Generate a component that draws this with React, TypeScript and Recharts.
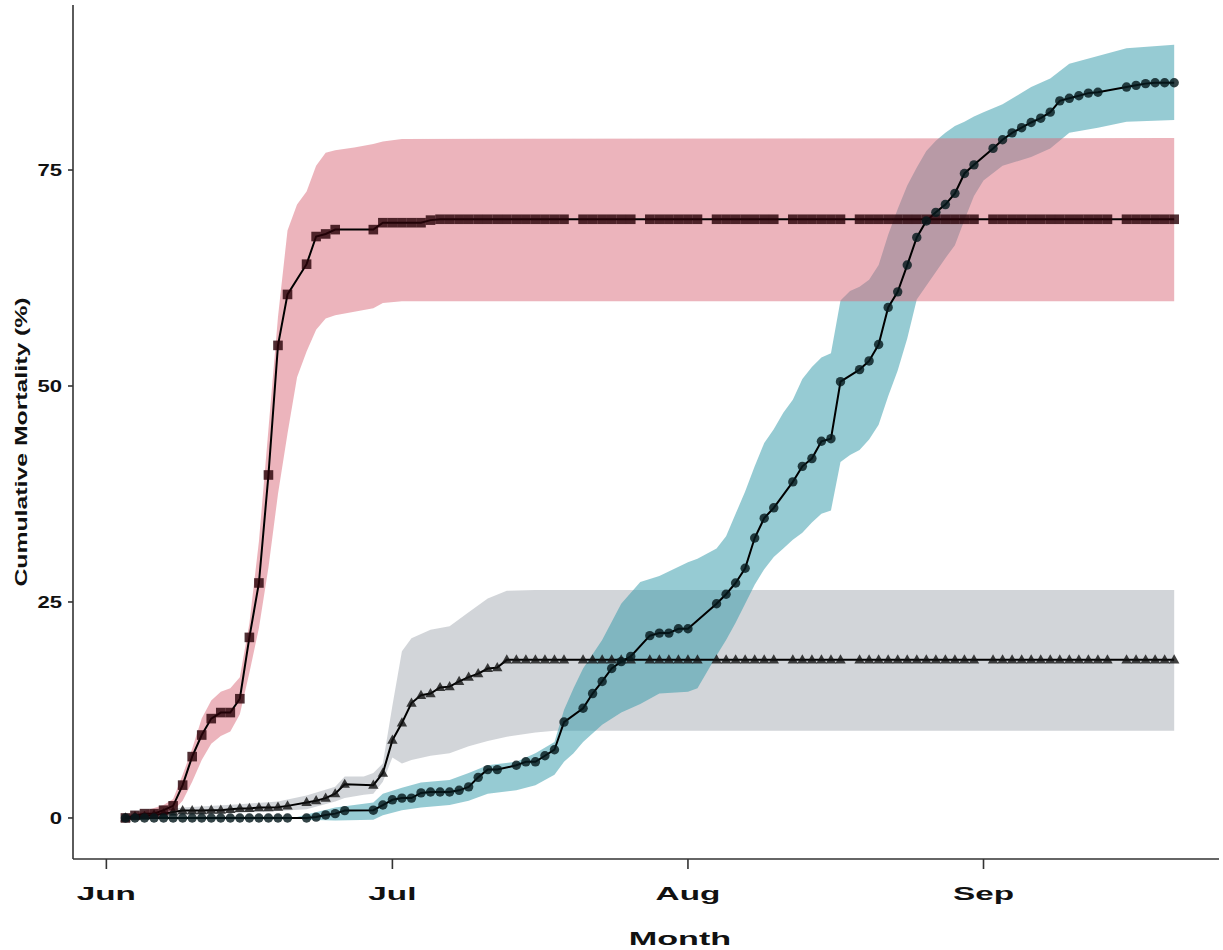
import React from 'react';
import { Area, ComposedChart, Line, XAxis, YAxis } from 'recharts';

// day = days since 1 June
const monthTicks = [0, 30, 61, 92];
const monthLabels = ['Jun', 'Jul', 'Aug', 'Sep'];
const mortalityTicks = [0, 25, 50, 75];

// [day, cumulative mortality %]
const redSeries: [number, number][] = [
  [2, 0], [3, 0.3], [4, 0.5], [5, 0.5], [6, 0.9], [7, 1.4], [8, 3.8], [9, 7.1], [10, 9.6],
  [11, 11.5], [12, 12.2], [13, 12.2], [14, 13.8], [15, 20.9], [16, 27.2], [17, 39.7], [18, 54.7],
  [19, 60.6], [21, 64.1], [22, 67.3], [23, 67.6], [24, 68.1], [28, 68.1], [29, 68.9], [30, 68.9],
  [31, 68.9], [32, 68.9], [33, 68.9], [34, 69.2],
  [35, 69.3], [36, 69.3], [37, 69.3], [38, 69.3], [39, 69.3], [40, 69.3], [41, 69.3], [42, 69.3],
  [43, 69.3], [44, 69.3], [45, 69.3], [46, 69.3], [47, 69.3], [48, 69.3],
  [50, 69.3], [51, 69.3], [52, 69.3], [53, 69.3], [54, 69.3], [55, 69.3],
  [57, 69.3], [58, 69.3], [59, 69.3], [60, 69.3], [61, 69.3], [62, 69.3],
  [64, 69.3], [65, 69.3], [66, 69.3], [67, 69.3], [68, 69.3], [69, 69.3], [70, 69.3],
  [72, 69.3], [73, 69.3], [74, 69.3], [75, 69.3], [76, 69.3], [77, 69.3],
  [79, 69.3], [80, 69.3], [81, 69.3], [82, 69.3], [83, 69.3], [84, 69.3], [85, 69.3], [86, 69.3],
  [87, 69.3], [88, 69.3], [89, 69.3], [90, 69.3], [91, 69.3],
  [93, 69.3], [94, 69.3], [95, 69.3], [96, 69.3], [97, 69.3], [98, 69.3], [99, 69.3], [100, 69.3],
  [101, 69.3], [102, 69.3], [103, 69.3], [104, 69.3], [105, 69.3],
  [107, 69.3], [108, 69.3], [109, 69.3], [110, 69.3], [111, 69.3], [112, 69.3],
];

const greySeries: [number, number][] = [
  [2, 0], [3, 0.2], [4, 0.2], [5, 0.35], [6, 0.5], [7, 0.7], [8, 0.85], [9, 0.85], [10, 0.85],
  [11, 0.9], [12, 0.9], [13, 1.0], [14, 1.1], [15, 1.1], [16, 1.2], [17, 1.2], [18, 1.25], [19, 1.4],
  [21, 1.8], [22, 2.0], [23, 2.3], [24, 2.8], [25, 3.9], [28, 3.8], [29, 5.2], [30, 9.0],
  [31, 11.0], [32, 13.3], [33, 14.2], [34, 14.4], [35, 15.1], [36, 15.2], [37, 15.8], [38, 16.3],
  [39, 16.7], [40, 17.3], [41, 17.4],
  [42, 18.3], [43, 18.3], [44, 18.3], [45, 18.3], [46, 18.3], [47, 18.3], [48, 18.3],
  [50, 18.3], [51, 18.3], [52, 18.3], [53, 18.3], [54, 18.3], [55, 18.3],
  [57, 18.3], [58, 18.3], [59, 18.3], [60, 18.3], [61, 18.3], [62, 18.3],
  [64, 18.3], [65, 18.3], [66, 18.3], [67, 18.3], [68, 18.3], [69, 18.3], [70, 18.3],
  [72, 18.3], [73, 18.3], [74, 18.3], [75, 18.3], [76, 18.3], [77, 18.3],
  [79, 18.3], [80, 18.3], [81, 18.3], [82, 18.3], [83, 18.3], [84, 18.3], [85, 18.3], [86, 18.3],
  [87, 18.3], [88, 18.3], [89, 18.3], [90, 18.3], [91, 18.3],
  [93, 18.3], [94, 18.3], [95, 18.3], [96, 18.3], [97, 18.3], [98, 18.3], [99, 18.3], [100, 18.3],
  [101, 18.3], [102, 18.3], [103, 18.3], [104, 18.3], [105, 18.3],
  [107, 18.3], [108, 18.3], [109, 18.3], [110, 18.3], [111, 18.3], [112, 18.3],
];

const tealSeries: [number, number][] = [
  [2, 0], [3, 0], [4, 0], [5, 0], [6, 0], [7, 0], [8, 0], [9, 0], [10, 0], [11, 0], [12, 0],
  [13, 0], [14, 0], [15, 0], [16, 0], [17, 0], [18, 0], [19, 0],
  [21, 0], [22, 0.1], [23, 0.35], [24, 0.5], [25, 0.85], [28, 0.9], [29, 1.5], [30, 2.1],
  [31, 2.3], [32, 2.3], [33, 2.9], [34, 3.0], [35, 3.0], [36, 3.0], [37, 3.2], [38, 3.6],
  [39, 4.7], [40, 5.6], [41, 5.6], [43, 6.1], [44, 6.5], [45, 6.5], [46, 7.2], [47, 7.9],
  [48, 11.1], [50, 12.7], [51, 14.4], [52, 15.8], [53, 17.3], [54, 18.1], [55, 18.7],
  [57, 21.1], [58, 21.4], [59, 21.4], [60, 21.9], [61, 21.9],
  [64, 24.8], [65, 25.9], [66, 27.2], [67, 28.9], [68, 32.4], [69, 34.7], [70, 35.9],
  [72, 38.9], [73, 40.7], [74, 41.6], [75, 43.6], [76, 43.9], [77, 50.5],
  [79, 51.9], [80, 52.9], [81, 54.8], [82, 59.1], [83, 60.9], [84, 64.0], [85, 67.2], [86, 69.1],
  [87, 70.1], [88, 71.0], [89, 72.3], [90, 74.6], [91, 75.6],
  [93, 77.5], [94, 78.5], [95, 79.3], [96, 79.9], [97, 80.5], [98, 81.0], [99, 81.7], [100, 83.0],
  [101, 83.3], [102, 83.6], [103, 83.9], [104, 84.0],
  [107, 84.6], [108, 84.8], [109, 85.0], [110, 85.1], [111, 85.1], [112, 85.1],
];

// [day, lower, upper] of the shaded bands
const redBand: [number, number, number][] = [
  [2, 0, 0.3], [4, 0, 0.8], [6, 0.3, 1.5], [7, 0.8, 2.2], [8, 2.0, 5.0], [9, 4.2, 8.0],
  [10, 6.7, 11.5], [11, 8.6, 13.6], [12, 9.5, 14.6], [13, 10.0, 15.0], [14, 12.0, 16.3],
  [15, 16.8, 22.5], [16, 22.0, 32.0], [17, 29.0, 45.0], [18, 37.5, 58.0], [19, 44.5, 68.0],
  [20, 51.0, 71.0], [21, 54.0, 72.5], [22, 56.5, 75.5], [23, 57.8, 77.0], [24, 58.2, 77.3],
  [26, 58.6, 77.6], [28, 59.0, 78.0], [29, 59.6, 78.3], [31, 59.8, 78.6], [112, 59.8, 78.7],
];

const greyBand: [number, number, number][] = [
  [2, 0, 0.3], [8, 0.3, 1.2], [14, 0.6, 1.6], [18, 0.8, 1.9], [21, 1.0, 2.6], [24, 1.9, 3.6],
  [25, 2.3, 4.8], [27, 2.7, 4.8], [28, 2.8, 5.2], [29, 4.2, 6.3], [30, 7.0, 13.0],
  [31, 6.3, 19.3], [32, 6.7, 20.8], [34, 7.2, 21.8], [36, 7.5, 22.2], [38, 8.3, 23.8],
  [40, 8.9, 25.4], [42, 9.4, 26.3], [45, 9.9, 26.4], [47, 10.1, 26.4], [112, 10.1, 26.4],
];

const tealBand: [number, number, number][] = [
  [20, 0, 0.1], [21, -0.2, 0.4], [24, -0.3, 1.2], [28, -0.2, 1.8], [29, 0.3, 2.8], [31, 0.9, 3.5],
  [33, 1.2, 4.1], [36, 1.5, 4.4], [38, 2.0, 5.2], [40, 2.8, 6.1], [43, 3.2, 6.5], [45, 3.8, 7.5],
  [47, 5.0, 8.8], [48, 6.5, 12.5], [49, 7.5, 15.0], [50, 8.8, 17.3], [52, 10.8, 20.6],
  [54, 12.2, 24.8], [56, 13.2, 27.3], [58, 14.4, 28.0], [61, 14.6, 29.6], [62, 15.0, 30.0],
  [64, 18.8, 31.2], [65, 20.6, 32.6], [66, 22.6, 35.2], [67, 24.8, 37.8], [68, 27.0, 40.7],
  [69, 28.8, 43.4], [70, 30.2, 45.0], [71, 31.2, 46.9], [72, 32.2, 48.4], [73, 33.0, 50.8],
  [74, 34.2, 52.2], [75, 35.2, 53.3], [76, 35.6, 53.8], [77, 41.2, 59.9], [78, 42.0, 61.0],
  [79, 42.6, 61.5], [80, 43.8, 62.3], [81, 45.5, 64.0], [82, 48.8, 67.5], [83, 51.8, 70.5],
  [84, 55.5, 73.2], [85, 60.0, 75.3], [86, 61.6, 77.2], [87, 63.2, 78.4], [88, 64.8, 79.3],
  [89, 66.3, 80.1], [90, 69.2, 80.6], [91, 72.0, 81.2], [92, 73.8, 81.7], [94, 75.5, 82.6],
  [97, 76.5, 84.6], [99, 77.5, 85.6], [101, 79.3, 87.3], [104, 79.9, 88.2], [107, 80.6, 89.1],
  [112, 80.8, 89.5],
];

const toPoints = (rows: [number, number][]) => rows.map(([day, value]) => ({ day, value }));
const toBand = (rows: [number, number, number][]) =>
  rows.map(([day, lo, hi]) => ({ day, range: [lo, hi] }));

const FONT = "'Liberation Sans', Arial, Helvetica, sans-serif";
const AXIS = '#333';

const squareDot = (props: any) => {
  const { cx, cy, index } = props;
  if (cx == null || cy == null) return <g key={`sq-${index}`} />;
  return (
    <rect key={`sq-${index}`} x={cx - 4.8} y={cy - 4.8} width={9.6} height={9.6}
      fill="#2a0208" fillOpacity={0.82} />
  );
};

const triangleDot = (props: any) => {
  const { cx, cy, index } = props;
  if (cx == null || cy == null) return <g key={`tr-${index}`} />;
  return (
    <path key={`tr-${index}`} d={`M${cx},${cy - 5.6}L${cx + 5.2},${cy + 3.6}L${cx - 5.2},${cy + 3.6}Z`}
      fill="#111" fillOpacity={0.8} />
  );
};

const circleDot = (props: any) => {
  const { cx, cy, index } = props;
  if (cx == null || cy == null) return <g key={`ci-${index}`} />;
  return <circle key={`ci-${index}`} cx={cx} cy={cy} r={4.7} fill="#061a1d" fillOpacity={0.82} />;
};

const MonthTick = ({ x, y, payload }: any) => {
  const i = monthTicks.indexOf(payload.value);
  return (
    <text transform={`translate(${x},${y + 29}) scale(1.85,1)`} textAnchor="middle"
      fontFamily={FONT} fontWeight={700} fontSize={18} fill="#111">
      {monthLabels[i]}
    </text>
  );
};

const MortalityTick = ({ x, y, payload }: any) => (
  <text transform={`translate(${x - 4},${y}) scale(1.3,1)`} textAnchor="end" dy="0.36em"
    fontFamily={FONT} fontWeight={700} fontSize={17} fill="#111">
    {payload.value}
  </text>
);

export default function App() {
  return (
    <div style={{ position: 'absolute', left: 0, top: 0, width: 1223, height: 950, background: '#fff' }}>
      <ComposedChart width={1223} height={950} margin={{ top: 5, right: 4, left: 0, bottom: 0 }}>
        <XAxis
          type="number"
          dataKey="day"
          domain={[-3.5, 116.7]}
          ticks={monthTicks}
          interval={0}
          allowDataOverflow
          height={91}
          tickSize={10}
          axisLine={{ stroke: AXIS, strokeWidth: 1.6 }}
          tickLine={{ stroke: AXIS, strokeWidth: 1.6 }}
          tick={<MonthTick />}
        />
        <YAxis
          type="number"
          domain={[-4.75, 94.1]}
          ticks={mortalityTicks}
          interval={0}
          allowDataOverflow
          width={73}
          tickSize={5}
          axisLine={{ stroke: AXIS, strokeWidth: 1.6 }}
          tickLine={{ stroke: AXIS, strokeWidth: 1.6 }}
          tick={<MortalityTick />}
        />
        <Area data={toBand(greyBand)} dataKey="range" type="linear" stroke="none"
          fill="#a5abb3" fillOpacity={0.5} isAnimationActive={false} activeDot={false} />
        <Area data={toBand(tealBand)} dataKey="range" type="linear" stroke="none"
          fill="#2d97a7" fillOpacity={0.5} isAnimationActive={false} activeDot={false} />
        <Area data={toBand(redBand)} dataKey="range" type="linear" stroke="none"
          fill="#d9697a" fillOpacity={0.5} isAnimationActive={false} activeDot={false} />
        <Line data={toPoints(greySeries)} dataKey="value" type="linear" stroke="#000" strokeWidth={2}
          dot={triangleDot} activeDot={false} isAnimationActive={false} />
        <Line data={toPoints(redSeries)} dataKey="value" type="linear" stroke="#000" strokeWidth={2}
          dot={squareDot} activeDot={false} isAnimationActive={false} />
        <Line data={toPoints(tealSeries)} dataKey="value" type="linear" stroke="#000" strokeWidth={2}
          dot={circleDot} activeDot={false} isAnimationActive={false} />
      </ComposedChart>
      <svg width={1223} height={950} style={{ position: 'absolute', left: 0, top: 0, pointerEvents: 'none' }}>
        <text transform="translate(680,945) scale(1.9,1)" textAnchor="middle"
          fontFamily={FONT} fontWeight={700} fontSize={18} fill="#111">
          Month
        </text>
        <text transform="translate(27,442) rotate(-90) scale(1.55,1)" textAnchor="middle"
          fontFamily={FONT} fontWeight={700} fontSize={16} fill="#111">
          Cumulative Mortality (%)
        </text>
      </svg>
    </div>
  );
}
